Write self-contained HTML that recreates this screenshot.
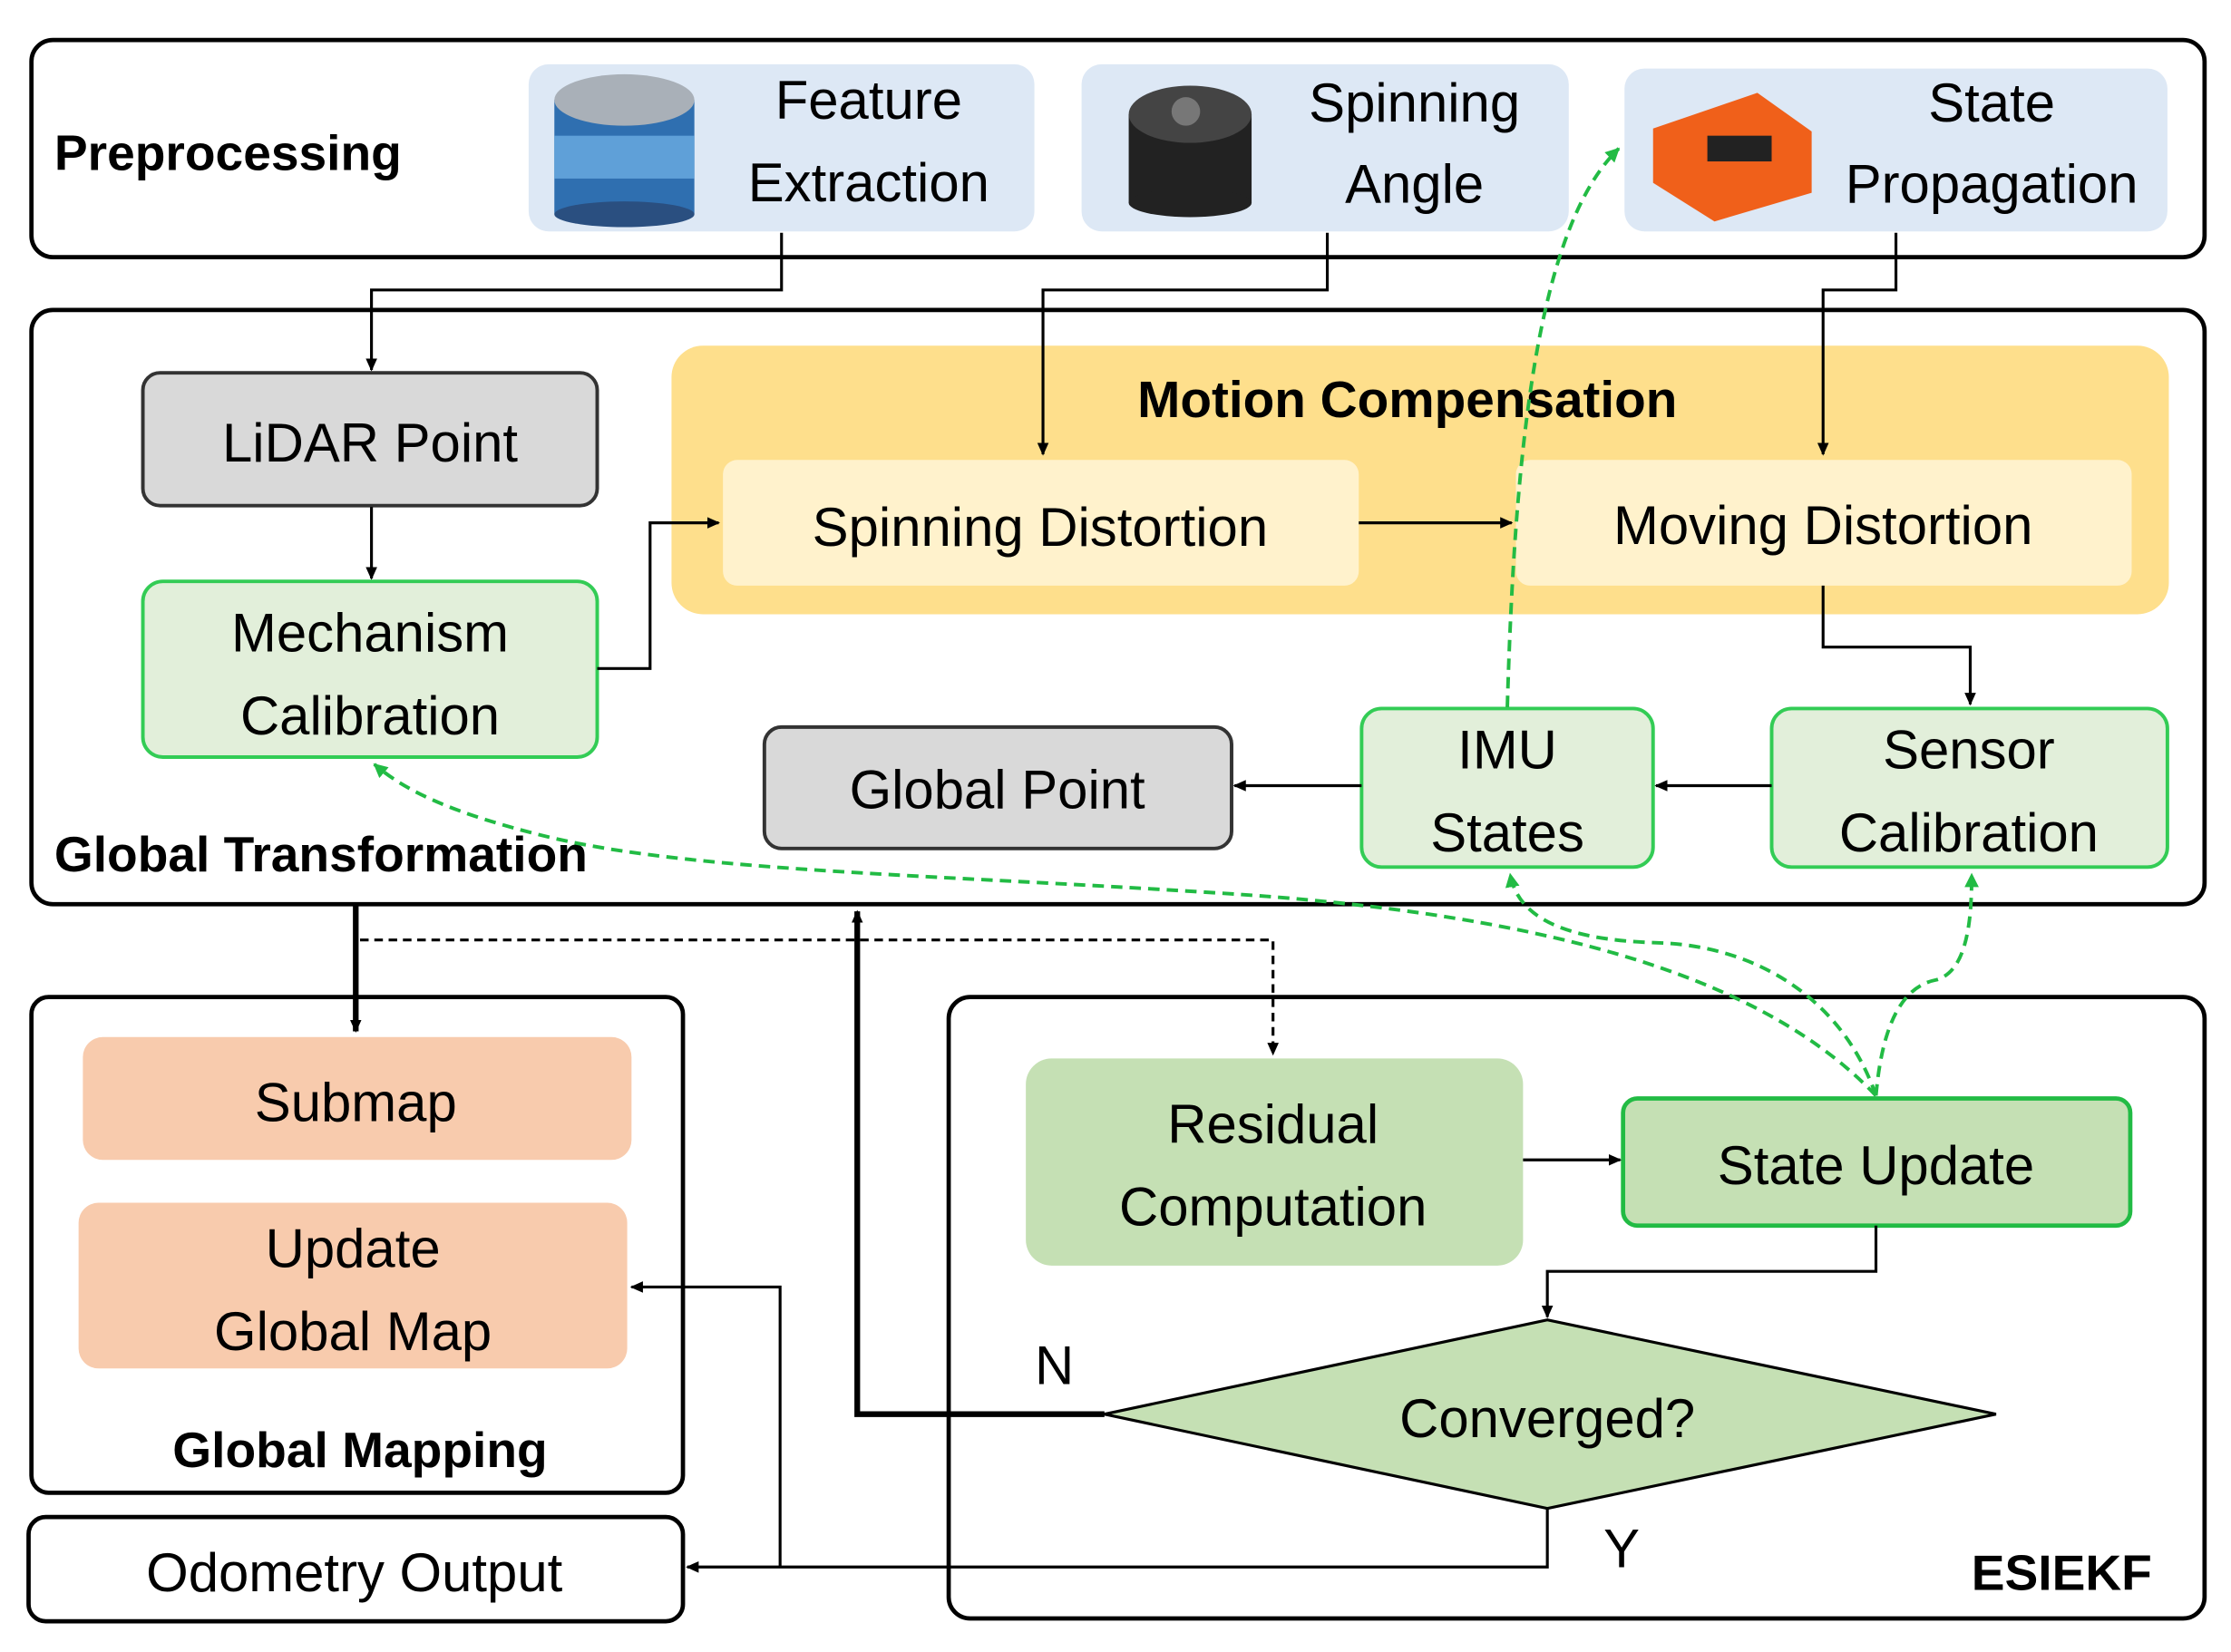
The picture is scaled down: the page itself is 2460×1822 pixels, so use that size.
<!DOCTYPE html>
<html><head><meta charset="utf-8"><style>html,body{margin:0;padding:0;background:#fff}svg{display:block}text{font-family:"Liberation Sans","DejaVu Sans",sans-serif}</style></head><body>
<svg width="2460" height="1822" viewBox="0 0 1561.5 1156.5" preserveAspectRatio="none" xmlns="http://www.w3.org/2000/svg">
<defs>
<marker id="a" markerWidth="10" markerHeight="10" refX="8" refY="5" orient="auto" markerUnits="userSpaceOnUse"><path d="M0,1 L9,5 L0,9 z" fill="#000"/></marker>
<marker id="g" markerWidth="12" markerHeight="12" refX="9" refY="6" orient="auto" markerUnits="userSpaceOnUse"><path d="M0,1 L10,6 L0,11 z" fill="#22bb44"/></marker>
</defs>
<g fill="none" stroke="#000" stroke-width="3">
<rect x="22" y="28" width="1521" height="152" rx="15"/>
<rect x="22" y="217" width="1521" height="416" rx="15"/>
<rect x="22" y="698" width="456" height="347" rx="12"/>
<rect x="20" y="1062" width="458" height="73" rx="12"/>
<rect x="664" y="698" width="879" height="435" rx="15"/>
</g>
<rect x="370" y="45" width="354" height="117" rx="14" fill="#dde8f5"/>
<rect x="757" y="45" width="341" height="117" rx="14" fill="#dde8f5"/>
<rect x="1137" y="48" width="380" height="114" rx="14" fill="#dde8f5"/>
<rect x="388" y="70" width="98" height="80" fill="#2f6fb0"/>
<rect x="388" y="95" width="98" height="30" fill="#5fa0d8"/>
<ellipse cx="437" cy="150" rx="49" ry="9" fill="#2a4f80"/>
<ellipse cx="437" cy="70" rx="49" ry="18" fill="#a9b0b8"/>
<rect x="790" y="80" width="86" height="62" fill="#222"/>
<ellipse cx="833" cy="142" rx="43" ry="10" fill="#222"/>
<ellipse cx="833" cy="80" rx="43" ry="20" fill="#444"/>
<circle cx="830" cy="78" r="10" fill="#777"/>
<polygon points="1157,90 1230,65 1268,92 1268,135 1200,155 1157,128" fill="#f0601a"/>
<rect x="1195" y="95" width="45" height="18" fill="#222"/>
<g font-size="38" fill="#000" text-anchor="middle">
<text x="608" y="83">Feature</text><text x="608" y="141">Extraction</text>
<text x="990" y="85">Spinning</text><text x="990" y="142">Angle</text>
<text x="1394" y="85">State</text><text x="1394" y="142">Propagation</text>
</g>
<text x="38" y="119" font-size="35" font-weight="bold">Preprocessing</text>
<rect x="470" y="242" width="1048" height="188" rx="22" fill="#fedf8c"/>
<rect x="506" y="322" width="445" height="88" rx="10" fill="#fff2cc"/>
<rect x="1061" y="322" width="431" height="88" rx="10" fill="#fff2cc"/>
<text x="985" y="292" font-size="36" font-weight="bold" text-anchor="middle">Motion Compensation</text>
<rect x="100" y="261" width="318" height="93" rx="12" fill="#d9d9d9" stroke="#333" stroke-width="2.5"/>
<rect x="100" y="407" width="318" height="123" rx="14" fill="#e2efda" stroke="#33cc55" stroke-width="2.5"/>
<rect x="535" y="509" width="327" height="85" rx="12" fill="#d9d9d9" stroke="#333" stroke-width="2.5"/>
<rect x="953" y="496" width="204" height="111" rx="14" fill="#e2efda" stroke="#33cc55" stroke-width="2.5"/>
<rect x="1240" y="496" width="277" height="111" rx="14" fill="#e2efda" stroke="#33cc55" stroke-width="2.5"/>
<rect x="58" y="726" width="384" height="86" rx="14" fill="#f8cbad"/>
<rect x="55" y="842" width="384" height="116" rx="14" fill="#f8cbad"/>
<rect x="718" y="741" width="348" height="145" rx="18" fill="#c5e0b4"/>
<rect x="1136" y="769" width="355" height="89" rx="10" fill="#c5e0b4" stroke="#22bb44" stroke-width="3"/>
<polygon points="773,990 1083,924 1397,990 1083,1056" fill="#c5e0b4" stroke="#000" stroke-width="2"/>
<g font-size="38" fill="#000" text-anchor="middle">
<text x="259" y="323">LiDAR Point</text>
<text x="259" y="456">Mechanism</text><text x="259" y="514">Calibration</text>
<text x="728" y="382">Spinning Distortion</text>
<text x="1276" y="381">Moving Distortion</text>
<text x="698" y="566">Global Point</text>
<text x="1055" y="538">IMU</text><text x="1055" y="596">States</text>
<text x="1378" y="538">Sensor</text><text x="1378" y="596">Calibration</text>
<text x="249" y="785">Submap</text>
<text x="247" y="887">Update</text><text x="247" y="945">Global Map</text>
<text x="248" y="1114">Odometry Output</text>
<text x="891" y="800">Residual</text><text x="891" y="858">Computation</text>
<text x="1313" y="829">State Update</text>
<text x="1083" y="1006">Converged?</text>
<text x="738" y="969">N</text><text x="1135" y="1097">Y</text>
</g>
<text x="38" y="610" font-size="35" font-weight="bold">Global Transformation</text>
<text x="252" y="1027" font-size="35" font-weight="bold" text-anchor="middle">Global Mapping</text>
<text x="1443" y="1113" font-size="35" font-weight="bold" text-anchor="middle">ESIEKF</text>
<g fill="none" stroke="#000" stroke-width="2" marker-end="url(#a)">
<path d="M547,163 V203 H260 V259"/>
<path d="M929,163 V203 H730 V318"/>
<path d="M1327,163 V203 H1276 V318"/>
<path d="M260,355 V405"/>
<path d="M418,468 H455 V366 H503"/>
<path d="M951,366 H1058"/>
<path d="M1276,410 V453 H1379 V493"/>
<path d="M1240,550 H1159"/>
<path d="M953,550 H864"/>
<path d="M1066,812 H1134"/>
<path d="M1313,858 V890 H1083 V922"/>
<path d="M1083,1056 V1097 H481"/>
<path d="M546,1097 V901 H442"/>
<path d="M252,658 H891 V738" stroke-dasharray="6,4"/>
</g>
<g fill="none" stroke="#000" stroke-width="4" marker-end="url(#a)">
<path d="M249,634 V722"/>
<path d="M773,990 H600 V638"/>
</g>
<g fill="none" stroke="#22bb44" stroke-width="2.5" stroke-dasharray="8,5" marker-end="url(#g)">
<path d="M1313,767 C1290,700 1230,662 1160,660 C1090,658 1062,640 1057,612"/>
<path d="M1313,767 C1318,710 1335,690 1355,686 C1378,680 1380,640 1380,612"/>
<path d="M1313,767 C1240,690 1100,640 850,625 C650,612 480,610 380,585 C320,570 285,555 262,535"/>
<path d="M1055,495 C1060,320 1075,160 1133,104"/>
</g>
</svg>
</body></html>
